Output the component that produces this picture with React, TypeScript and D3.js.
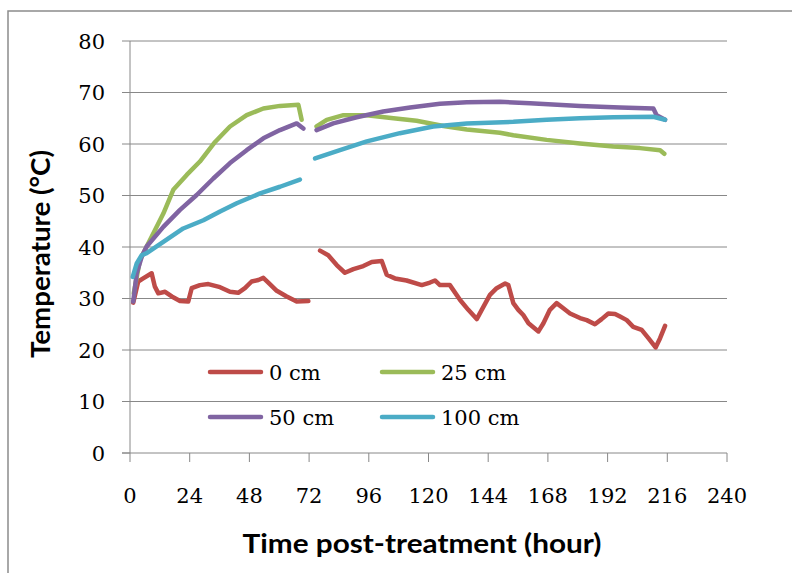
import * as d3 from "d3";
import React from "react";

// hours post-treatment, temperature (°C); null marks the gap in logging
type Pt = [number, number | null];

const temp0cm: Pt[] = [
  [1.3, 29.2], [3.3, 33.3], [5.3, 33.9], [8.7, 34.9], [10, 32.3], [11.4, 31], [14.1, 31.3],
  [16.8, 30.4], [20.1, 29.5], [23.4, 29.4], [24.8, 32], [28.1, 32.6], [31.5, 32.8], [36.2, 32.2],
  [40.2, 31.3], [43.5, 31.1], [46.2, 32], [48.9, 33.3], [51.6, 33.6], [53.6, 34], [55.6, 33.1],
  [59, 31.5], [63, 30.4], [67, 29.4], [71.7, 29.5],
  [73, null],
  [76.4, 39.3], [79.7, 38.4], [83.1, 36.5], [86.4, 35], [89.8, 35.7], [93.8, 36.3], [97.2, 37.1],
  [101.2, 37.3], [103.2, 34.6], [106.5, 33.9], [111.2, 33.5], [117.3, 32.6], [120.6, 33.1],
  [122.6, 33.5], [124.6, 32.6], [128.6, 32.6], [132.7, 29.7], [136, 27.8], [139.4, 26],
  [141.4, 27.8], [144.7, 30.7], [147.4, 32], [150.8, 32.9], [152.1, 32.6], [154.1, 29.1],
  [156.1, 27.8], [158.1, 26.8], [160.2, 25.2], [164.2, 23.6], [166.2, 25.2], [168.8, 27.8],
  [171.5, 29.1], [174.2, 28.1], [176.9, 27.1], [180.9, 26.2], [183.6, 25.8], [186.9, 25],
  [189.6, 26], [192.3, 27.1], [195, 27], [197, 26.5], [199.7, 25.8], [202.3, 24.5], [205.7, 23.9],
  [208.4, 22.3], [211.3, 20.5], [213.1, 22.3], [215.1, 24.7],
];

const temp25cm: Pt[] = [
  [1.5, 31], [4, 37.5], [8.7, 42], [13.4, 46.5], [17.4, 51.1], [22.8, 54], [28.1, 56.6],
  [34.2, 60.4], [40.2, 63.4], [46.9, 65.6], [53.6, 66.9], [60.3, 67.4], [67.7, 67.6], [69, 64.7],
  [72, null],
  [75, 63.4], [79.1, 64.7], [85.8, 65.6], [95.2, 65.6], [105.9, 65], [115.2, 64.5], [126, 63.5],
  [135.4, 62.8], [148.7, 62.2], [154.1, 61.7], [167.5, 60.8], [180.9, 60.1], [194.3, 59.5],
  [205, 59.2], [213.1, 58.8], [214.8, 58.1],
];

const temp50cm: Pt[] = [
  [1.3, 29.4], [2.7, 34.9], [4.7, 38.1], [6.7, 40.1], [13.4, 43.9], [20.1, 47.2], [26.8, 50.1],
  [33.5, 53.3], [40.2, 56.3], [46.9, 58.8], [53.6, 61.1], [60.3, 62.7], [67, 64], [69.7, 63],
  [72, null],
  [75, 62.7], [81.7, 64], [91.1, 65.2], [101.8, 66.3], [112.6, 67.1], [124.6, 67.8], [135.4, 68.1],
  [148.7, 68.2], [160.8, 67.9], [180.9, 67.4], [197, 67.1], [210.4, 66.9], [211.7, 65.6],
  [215.1, 64.7],
];

const temp100cm: Pt[] = [
  [1.1, 34.2], [2.7, 36.8], [4.7, 38.4], [6.7, 38.8], [13.4, 41], [21.4, 43.6], [29.5, 45.2],
  [36.2, 46.9], [42.9, 48.5], [52.3, 50.4], [60.3, 51.7], [68.3, 53.1],
  [71, null],
  [74.4, 57.2], [84.4, 58.8], [95.2, 60.5], [108.5, 62.1], [121.9, 63.4], [135.4, 64],
  [154.1, 64.3], [167.5, 64.7], [180.9, 65], [194.3, 65.2], [210.4, 65.3], [215.1, 64.7],
];

const seriesNames = ["0 cm", "25 cm", "50 cm", "100 cm"];
const seriesData = [temp0cm, temp25cm, temp50cm, temp100cm];
const seriesColors = ["#be4b48", "#9bbb59", "#8064a2", "#4bacc6"];

const xTicks = d3.range(0, 241, 24);
const yTicks = d3.range(0, 81, 10);

const W = 792;
const H = 573;
const plot = { left: 130, right: 727, top: 41, bottom: 453 };

const serif = "'DejaVu Serif', 'Liberation Serif', serif";
const sans = "Lato, 'Open Sans', sans-serif";
const gridColor = "#888888";

export default function App() {
  const x = d3.scaleLinear().domain([0, 240]).range([plot.left, plot.right]);
  const y = d3.scaleLinear().domain([0, 80]).range([plot.bottom, plot.top]);

  const line = d3
    .line<Pt>()
    .defined((d) => d[1] !== null)
    .x((d) => x(d[0]))
    .y((d) => y(d[1] as number));

  // legend: 2 columns x 2 rows
  const legendCols = [210, 382];
  const legendRows = [372, 417];

  return (
    <svg
      width={W}
      height={H}
      style={{ position: "absolute", left: 0, top: 0, background: "#fff" }}
    >
      {/* chart frame, runs off the page at right and bottom */}
      <rect x={8} y={11} width={W + 20} height={H + 20} fill="#fff" stroke="#8c8c8c" strokeWidth={1.5} />

      {/* gridlines */}
      {yTicks.slice(1).map((t) => (
        <line key={t} x1={plot.left} x2={plot.right} y1={y(t)} y2={y(t)} stroke={gridColor} strokeWidth={1} />
      ))}

      {/* axes */}
      <line x1={plot.left} x2={plot.left} y1={plot.top} y2={plot.bottom} stroke={gridColor} />
      <line x1={plot.left - 8} x2={plot.right} y1={plot.bottom} y2={plot.bottom} stroke={gridColor} />
      {yTicks.map((t) => (
        <g key={t}>
          <line x1={plot.left - 8} x2={plot.left} y1={y(t)} y2={y(t)} stroke={gridColor} />
          <text x={105} y={y(t) + 7.5} textAnchor="end" fontFamily={serif} fontSize={21} fill="#000">
            {t}
          </text>
        </g>
      ))}
      {xTicks.map((t) => (
        <g key={t}>
          <line x1={x(t)} x2={x(t)} y1={plot.bottom} y2={plot.bottom + 9} stroke={gridColor} />
          <text x={x(t)} y={503} textAnchor="middle" fontFamily={serif} fontSize={21} fill="#000">
            {t}
          </text>
        </g>
      ))}

      {/* series */}
      {seriesData.map((d, i) => (
        <path
          key={seriesNames[i]}
          d={line(d) ?? ""}
          fill="none"
          stroke={seriesColors[i]}
          strokeWidth={4.5}
          strokeLinejoin="round"
          strokeLinecap="round"
        />
      ))}

      {/* legend */}
      {seriesNames.map((name, i) => {
        const lx = legendCols[i % 2];
        const ly = legendRows[Math.floor(i / 2)];
        return (
          <g key={name}>
            <line x1={lx} x2={lx + 51} y1={ly} y2={ly} stroke={seriesColors[i]} strokeWidth={4.5} strokeLinecap="round" />
            <text x={lx + 59} y={ly + 8} fontFamily={serif} fontSize={21} fill="#000">
              {name}
            </text>
          </g>
        );
      })}

      {/* axis titles */}
      <text
        x={422}
        y={553}
        textAnchor="middle"
        fontFamily={sans}
        fontWeight="bold"
        fontSize={27}
        textLength={359}
        lengthAdjust="spacingAndGlyphs"
        fill="#000"
      >
        Time post-treatment (hour)
      </text>
      <text
        transform="translate(50,254) rotate(-90)"
        textAnchor="middle"
        fontFamily={sans}
        fontWeight="bold"
        fontSize={27}
        textLength={208}
        lengthAdjust="spacingAndGlyphs"
        fill="#000"
      >
        Temperature (°C)
      </text>
    </svg>
  );
}
